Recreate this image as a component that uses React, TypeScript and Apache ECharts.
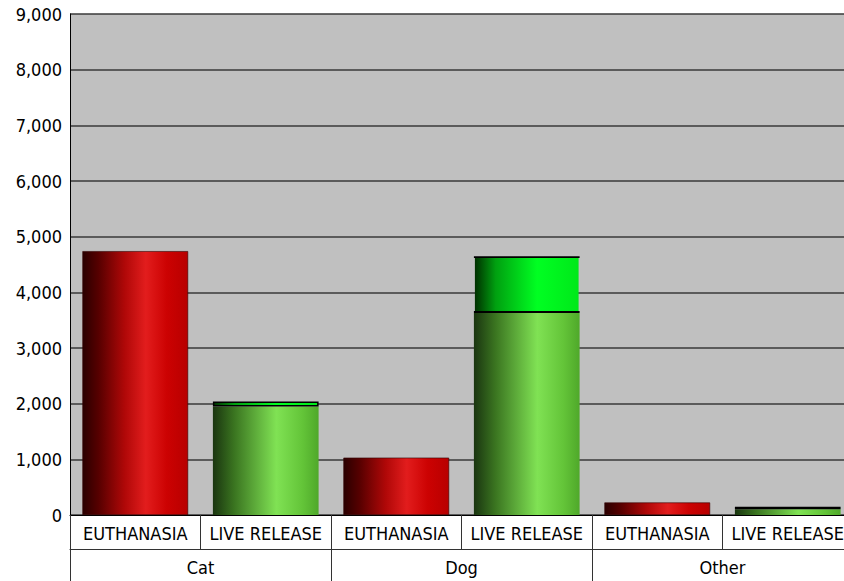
import React, { useEffect, useRef } from "react";
import * as echarts from "echarts";

const subCategories = ["EUTHANASIA", "LIVE RELEASE", "EUTHANASIA", "LIVE RELEASE", "EUTHANASIA", "LIVE RELEASE"];
const groups = ["Cat", "Dog", "Other"];
const euthanasia = [4740, null, 1030, null, 225, null];
const liveReleaseBase = [null, 1950, null, 3630, null, 105];
const liveReleaseTop = [null, 90, null, 1020, null, 45];
const yMin = 0;
const yMax = 9000;
const yStep = 1000;

const FONT = "'DejaVu Sans Condensed', 'DejaVu Sans', sans-serif";

const grad = (stops: [number, string][], vertical = false) =>
  new echarts.graphic.LinearGradient(0, 0, vertical ? 0 : 1, vertical ? 1 : 0, stops.map(([offset, color]) => ({ offset, color })));

export default function App() {
  const ref = useRef<HTMLDivElement>(null);
  useEffect(() => {
    document.body.style.margin = "0";
    const chart = echarts.init(ref.current!, null, { renderer: "svg" });
    const red = grad([
      [0, "#2a0000"],
      [0.15, "#560000"],
      [0.4, "#b00808"],
      [0.6, "#e21d1d"],
      [0.8, "#cc0202"],
      [1, "#b80000"],
    ]);
    const green = grad([
      [0, "#1a3510"],
      [0.2, "#3a7420"],
      [0.6, "#80e254"],
      [0.85, "#63c438"],
      [1, "#4fa82a"],
    ]);
    const bright = grad([
      [0, "#003000"],
      [0.2, "#00a010"],
      [0.6, "#00ff22"],
      [1, "#00e81a"],
    ]);
    const edgeOnly = grad(
      [
        [0, "#000"],
        [0.02, "#000"],
        [0.02, "rgba(0,0,0,0)"],
        [0.98, "rgba(0,0,0,0)"],
        [0.98, "#000"],
        [1, "#000"],
      ],
      true
    );
    const topData = liveReleaseTop.map((v) =>
      v == null
        ? null
        : {
            value: v,
            itemStyle: {
              color: bright,
              borderColor: v > 300 ? edgeOnly : "#000",
              borderWidth: v > 300 ? 2 : 1.5,
            },
          }
    );
    chart.setOption({
      animation: false,
      grid: {
        left: 70,
        right: 0,
        top: 14,
        bottom: 66,
        containLabel: false,
        show: true,
        backgroundColor: "#c0c0c0",
        borderWidth: 0,
      },
      xAxis: [
        {
          type: "category",
          data: subCategories,
          position: "bottom",
          axisLine: { show: true, lineStyle: { color: "#000", width: 1 } },
          axisTick: { show: true, interval: 0, length: 34, lineStyle: { color: "#333" } },
          axisLabel: { interval: 0, margin: 9, fontFamily: FONT, fontSize: 18, color: "#000" },
          splitLine: { show: false },
        },
        {
          type: "category",
          data: groups,
          position: "bottom",
          offset: 34,
          axisLine: { show: true, lineStyle: { color: "#333", width: 1 } },
          axisTick: { show: true, interval: 0, length: 32, lineStyle: { color: "#333" } },
          axisLabel: { interval: 0, margin: 9, fontFamily: FONT, fontSize: 18, color: "#000" },
          splitLine: { show: false },
        },
      ],
      yAxis: {
        type: "value",
        min: yMin,
        max: yMax,
        interval: yStep,
        axisLine: { show: true, lineStyle: { color: "#000", width: 1 } },
        axisTick: { show: false },
        axisLabel: {
          margin: 8,
          fontFamily: FONT,
          fontSize: 18,
          color: "#000",
          formatter: (v: number) => v.toLocaleString("en-US"),
        },
        splitLine: { show: true, lineStyle: { color: "#3a3a3a", width: 1.5 } },
      },
      series: [
        {
          type: "bar",
          name: "Euthanasia",
          stack: "s",
          data: euthanasia,
          barCategoryGap: "19%",
          itemStyle: { color: red, borderColor: "#300", borderWidth: 0.6 },
        },
        {
          type: "bar",
          name: "Live release",
          stack: "s",
          data: liveReleaseBase,
          barCategoryGap: "19%",
          itemStyle: { color: green },
        },
        {
          type: "bar",
          name: "Live release (top)",
          stack: "s",
          data: topData,
          barCategoryGap: "19%",
        },
      ],
    });
    return () => chart.dispose();
  }, []);
  return (
    <div style={{ position: "absolute", left: 0, top: 0, width: 844, height: 581, overflow: "hidden", background: "#fff" }}>
      <div ref={ref} style={{ position: "absolute", left: 0, top: 0, width: 853, height: 581 }} />
    </div>
  );
}
